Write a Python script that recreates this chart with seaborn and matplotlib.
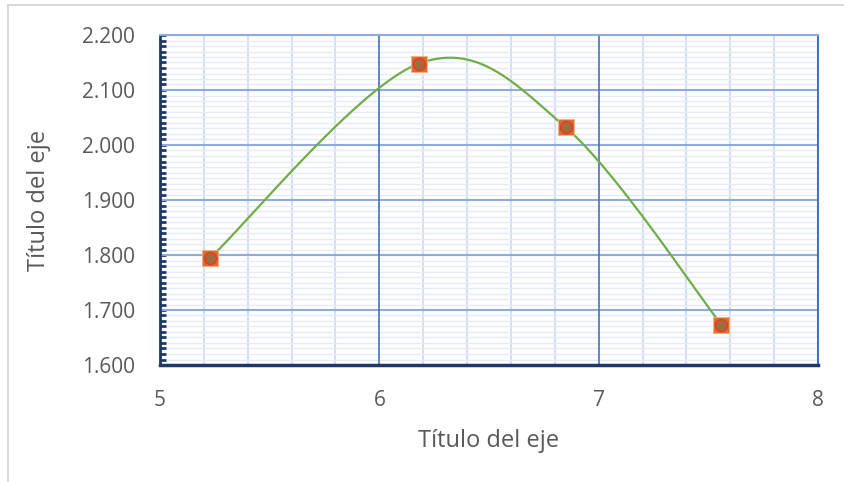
import numpy as np
import pandas as pd
import matplotlib
matplotlib.use("Agg")
import matplotlib.pyplot as plt
from matplotlib.ticker import MultipleLocator, FuncFormatter
from matplotlib.patches import Rectangle
import seaborn as sns

# ---- data ----
x_vals = [5.23, 6.18, 6.85, 7.56]
y_vals = [1.795, 2.148, 2.032, 1.673]
x_title = "Título del eje"
y_title = "Título del eje"

sns.set_theme(style="white")
plt.rcParams['font.family'] = ['Open Sans', 'DejaVu Sans']

XMIN, XMAX, YMIN, YMAX = 5, 8, 1.6, 2.2

fig = plt.figure(figsize=(8.45, 4.82), dpi=100)
ax = fig.add_axes([160/845, 1-365/482, (818-160)/845, (365-35)/482])

# Excel-like smoothed line (Catmull-Rom style Bezier in screen space)
W, H = 658.0, 330.0
P = np.array([[(x - XMIN) / (XMAX - XMIN) * W, (y - YMIN) / (YMAX - YMIN) * H]
              for x, y in zip(x_vals, y_vals)])
ext = np.vstack([P[0], P, P[-1]])
seg = []
t = np.linspace(0, 1, 60)[:, None]
for i in range(len(P) - 1):
    p0, p1, p2, p3 = ext[i], ext[i + 1], ext[i + 2], ext[i + 3]
    b1 = p1 + (p2 - p0) / 6.0
    b2 = p2 - (p3 - p1) / 6.0
    pts = ((1 - t) ** 3) * p1 + 3 * ((1 - t) ** 2) * t * b1 + 3 * (1 - t) * t ** 2 * b2 + t ** 3 * p2
    seg.append(pts if i == 0 else pts[1:])
curve = np.vstack(seg)
curve_df = pd.DataFrame({
    "x": XMIN + curve[:, 0] / W * (XMAX - XMIN),
    "y": YMIN + curve[:, 1] / H * (YMAX - YMIN),
})
pts_df = pd.DataFrame({"x": x_vals, "y": y_vals})

ax.set_xlim(XMIN, XMAX)
ax.set_ylim(YMIN, YMAX)

# grid
ax.xaxis.set_major_locator(MultipleLocator(1))
ax.xaxis.set_minor_locator(MultipleLocator(0.2))
ax.yaxis.set_major_locator(MultipleLocator(0.1))
ax.yaxis.set_minor_locator(MultipleLocator(0.01))
ax.set_axisbelow(True)
ax.grid(which="minor", axis="y", color="#E6ECF7", lw=1.0)
ax.grid(which="minor", axis="x", color="#D6DFF1", lw=1.5)
for yv in ax.get_yticks():
    if YMIN < yv < YMAX + 1e-9:
        ax.axhline(yv, color="#8FAADC", lw=1.5, zorder=1)
for xv in ax.get_xticks():
    if XMIN < xv < XMAX:
        ax.axvline(xv, color="#4472C4", lw=1.2, zorder=1.2)

sns.lineplot(data=curve_df, x="x", y="y", sort=False, estimator=None,
             color="#70AD47", lw=1.6, ax=ax, zorder=3)
sns.scatterplot(data=pts_df, x="x", y="y", marker="s", s=120,
                color="#DC6E2E", edgecolor="#F4B183", linewidth=0.6, ax=ax, zorder=4)
sns.scatterplot(data=pts_df, x="x", y="y", marker="o", s=75,
                color="#A36A3C", edgecolor="#E8382A", linewidth=1.0, ax=ax, zorder=5)

# spines
for s in ["top", "right"]:
    ax.spines[s].set_visible(True)
ax.spines["top"].set_color("#8FAADC")
ax.spines["top"].set_linewidth(1.5)
ax.spines["right"].set_color("#4472C4")
ax.spines["right"].set_linewidth(1.5)
ax.spines["left"].set_color("#1F3864")
ax.spines["left"].set_linewidth(2.0)
ax.spines["bottom"].set_color("#1F3864")
ax.spines["bottom"].set_linewidth(2.5)
for sp in ax.spines.values():
    sp.set_zorder(6)

ax.yaxis.set_major_formatter(FuncFormatter(lambda v, p: f"{v:.3f}"))
ax.xaxis.set_major_formatter(FuncFormatter(lambda v, p: f"{v:g}"))
ax.tick_params(axis="y", which="both", direction="in", length=4, width=2,
               color="#1F3864", left=True, labelsize=15, labelcolor="#595959", pad=18)
ax.tick_params(axis="x", which="both", length=0, labelsize=15,
               labelcolor="#595959", pad=18)

ax.set_xlabel(x_title, fontsize=17, color="#595959", labelpad=13)
ax.set_ylabel(y_title, fontsize=17, color="#595959", labelpad=22)

# chart-area border
fig.patches.append(Rectangle((8/845, -0.1), 2.0, 1 - 5/482 + 0.1,
                             transform=fig.transFigure, fill=False,
                             edgecolor="#D9D9D9", lw=1.5))

fig.savefig("out.png", dpi=100)
